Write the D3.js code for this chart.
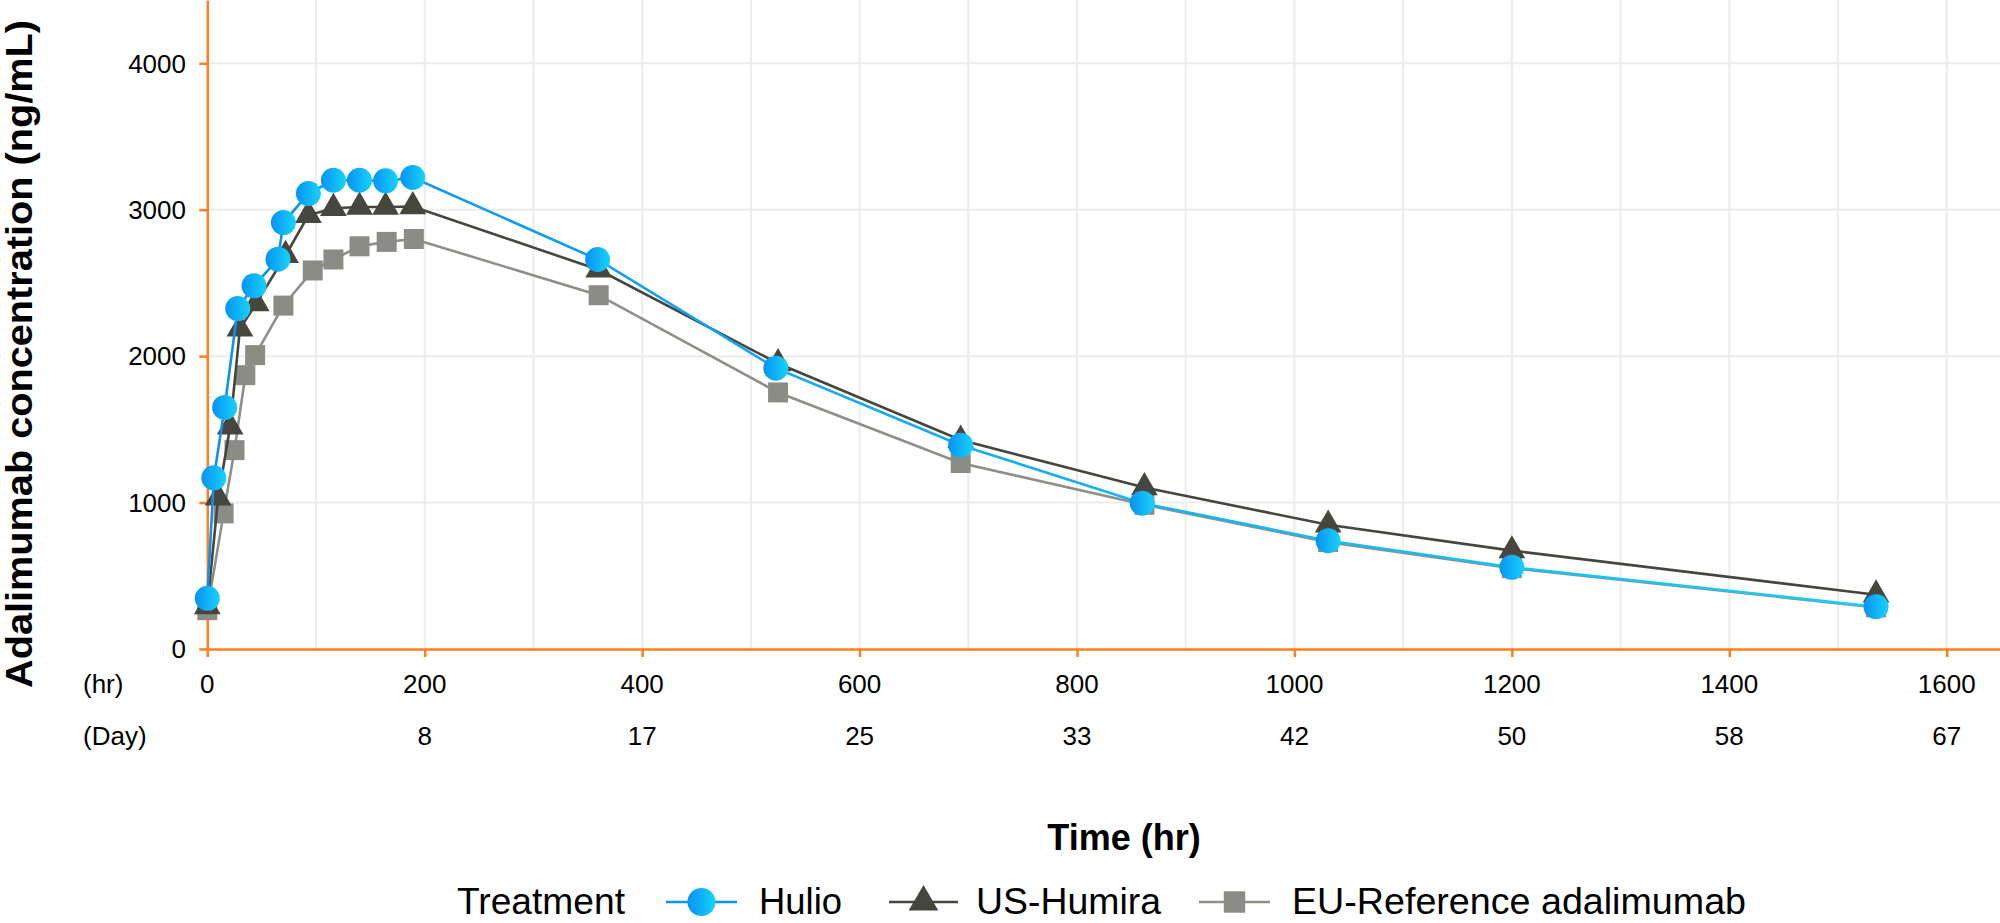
<!DOCTYPE html>
<html><head><meta charset="utf-8">
<script src="https://cdn.jsdelivr.net/npm/d3@7"></script>
<style>
html,body{margin:0;padding:0;background:#fff;}
text{font-family:"Liberation Sans",Arial,Helvetica,sans-serif;fill:#000;}
</style></head>
<body>
<svg id="chart" width="2000" height="923"></svg>
<script>
// ---- data ----
const hulioT = [0, 6, 16, 28, 43, 65, 70, 93, 116, 140, 164, 189, 359, 523, 693, 860, 1031, 1200, 1535];
const hulioV = [346, 1169, 1650, 2325, 2480, 2662, 2912, 3110, 3201, 3201, 3197, 3220, 2660, 1918, 1392, 996, 739, 558, 289];

const humiraT = [0, 10, 21, 30, 45, 72, 93, 116, 140, 164, 189, 360, 525, 693, 862, 1031, 1200, 1535];
const humiraV = [290, 1033, 1518, 2186, 2360, 2689, 2962, 3010, 3018, 3018, 3022, 2590, 1950, 1427, 1103, 848, 672, 370];

const euT = [0, 15, 25, 35, 44, 70, 97, 116, 140, 165, 190, 360, 525, 693, 862, 1031, 1200, 1535];
const euV = [265, 926, 1358, 1870, 2007, 2345, 2585, 2660, 2750, 2780, 2800, 2416, 1752, 1270, 985, 730, 552, 284];

const hrTicks = [0, 200, 400, 600, 800, 1000, 1200, 1400, 1600];
const dayLabels = ["", "8", "17", "25", "33", "42", "50", "58", "67"];
const yTicks = [0, 1000, 2000, 3000, 4000];
const seriesNames = ["Hulio", "US-Humira", "EU-Reference adalimumab"];

// ---- setup ----
const svg = d3.select("#chart");
const x = d3.scaleLinear().domain([0, 1649]).range([207.3, 2000]);
const y = d3.scaleLinear().domain([0, 4432]).range([649, 0]);
const ORANGE = "#ff7f1f";

const defs = svg.append("defs");
const gCirc = defs.append("linearGradient").attr("id", "gradCirc").attr("x1", "0").attr("x2", "1").attr("y1", "0").attr("y2", "0");
gCirc.append("stop").attr("offset", "0").attr("stop-color", "#0892f3");
gCirc.append("stop").attr("offset", "1").attr("stop-color", "#17d3fa");
const gLine = defs.append("linearGradient").attr("id", "gradLine").attr("gradientUnits", "userSpaceOnUse")
  .attr("x1", x(0)).attr("x2", x(1535)).attr("y1", 0).attr("y2", 0);
gLine.append("stop").attr("offset", "0").attr("stop-color", "#0f8ff0");
gLine.append("stop").attr("offset", "1").attr("stop-color", "#17d0f7");

// grid
const grid = svg.append("g");
grid.selectAll("line.v").data(d3.range(100, 1601, 100)).join("line")
  .attr("x1", d => x(d)).attr("x2", d => x(d)).attr("y1", 0).attr("y2", y(0))
  .attr("stroke", "#ececec").attr("stroke-width", 2);
grid.selectAll("line.h").data(yTicks.filter(d => d > 0)).join("line")
  .attr("x1", x(0)).attr("x2", 2000).attr("y1", d => y(d)).attr("y2", d => y(d))
  .attr("stroke", "#ececec").attr("stroke-width", 2);

// axes
const xAxis = svg.append("g").attr("transform", `translate(0,${y(0)})`)
  .call(d3.axisBottom(x).tickValues(hrTicks).tickSize(8).tickSizeOuter(0).tickFormat(""));
const yAxis = svg.append("g").attr("transform", `translate(${x(0)},0)`)
  .call(d3.axisLeft(y).tickValues(yTicks).tickSize(8).tickSizeOuter(0).tickFormat(""));
[xAxis, yAxis].forEach(a => {
  a.select(".domain").attr("stroke", ORANGE).attr("stroke-width", 2.5);
  a.selectAll(".tick line").attr("stroke", ORANGE).attr("stroke-width", 2.5);
});

// tick labels
svg.append("g").selectAll("text").data(yTicks).join("text")
  .attr("x", 186).attr("y", d => y(d) + 9.3).attr("text-anchor", "end")
  .attr("font-size", 26).text(d => d);
svg.append("g").selectAll("text").data(hrTicks).join("text")
  .attr("x", d => x(d)).attr("y", 693).attr("text-anchor", "middle")
  .attr("font-size", 26).text(d => d);
svg.append("g").selectAll("text").data(hrTicks).join("text")
  .attr("x", d => x(d)).attr("y", 745).attr("text-anchor", "middle")
  .attr("font-size", 26).text((d, i) => dayLabels[i]);
svg.append("text").attr("x", 83).attr("y", 693).attr("font-size", 26).text("(hr)");
svg.append("text").attr("x", 83).attr("y", 745).attr("font-size", 26).text("(Day)");

// axis titles
svg.append("text").attr("x", 1124).attr("y", 850).attr("text-anchor", "middle")
  .attr("font-size", 36).attr("font-weight", "bold").text("Time (hr)");
svg.append("text").attr("transform", "translate(32,354) rotate(-90)").attr("text-anchor", "middle")
  .attr("font-size", 37).attr("font-weight", "bold")
  .attr("textLength", 668).attr("lengthAdjust", "spacingAndGlyphs")
  .text("Adalimumab concentration (ng/mL)");

// series
const line = d3.line().x(d => x(d[0])).y(d => y(d[1]));
const series = [
  {name: seriesNames[2], t: euT, v: euV, stroke: "#8f8f8a", fill: "#8c8c87", sym: d3.symbolSquare, size: 400},
  {name: seriesNames[1], t: humiraT, v: humiraV, stroke: "#46463e", fill: "#46463e", sym: d3.symbolTriangle, size: 310},
  {name: seriesNames[0], t: hulioT, v: hulioV, stroke: "url(#gradLine)", fill: "url(#gradCirc)", sym: d3.symbolCircle, size: Math.PI * 12.5 * 12.5}
];
series.forEach(s => {
  const pts = s.t.map((t, i) => [t, s.v[i]]);
  const g = svg.append("g");
  g.append("path").datum(pts).attr("d", line).attr("fill", "none")
    .attr("stroke", s.stroke).attr("stroke-width", 2.6);
  g.selectAll("path.m").data(pts).join("path").attr("class", "m")
    .attr("transform", d => `translate(${x(d[0])},${y(d[1])})`)
    .attr("d", d3.symbol().type(s.sym).size(s.size))
    .attr("fill", s.fill);
});

// legend
const LY = 902;
const leg = svg.append("g");
leg.append("text").attr("x", 457).attr("y", LY + 12).attr("font-size", 36)
  .attr("textLength", 168).attr("lengthAdjust", "spacingAndGlyphs").text("Treatment");
const legItems = [
  {name: seriesNames[0], x0: 666, x1: 737, tx: 759, tl: 83, stroke: "#0f93f1", fill: "url(#gradCirc)", sym: d3.symbolCircle, size: Math.PI * 14 * 14},
  {name: seriesNames[1], x0: 889, x1: 958, tx: 976, tl: 185, stroke: "#46463e", fill: "#46463e", sym: d3.symbolTriangle, size: 380},
  {name: seriesNames[2], x0: 1199, x1: 1270, tx: 1292, tl: 454, stroke: "#8f8f8a", fill: "#8c8c87", sym: d3.symbolSquare, size: 460}
];
legItems.forEach(it => {
  leg.append("line").attr("x1", it.x0).attr("x2", it.x1).attr("y1", LY).attr("y2", LY)
    .attr("stroke", it.stroke).attr("stroke-width", 2.6);
  leg.append("path").attr("transform", `translate(${(it.x0 + it.x1) / 2},${LY})`)
    .attr("d", d3.symbol().type(it.sym).size(it.size)).attr("fill", it.fill);
  leg.append("text").attr("x", it.tx).attr("y", LY + 12).attr("font-size", 36)
    .attr("textLength", it.tl).attr("lengthAdjust", "spacingAndGlyphs").text(it.name);
});
</script>
</body></html>
